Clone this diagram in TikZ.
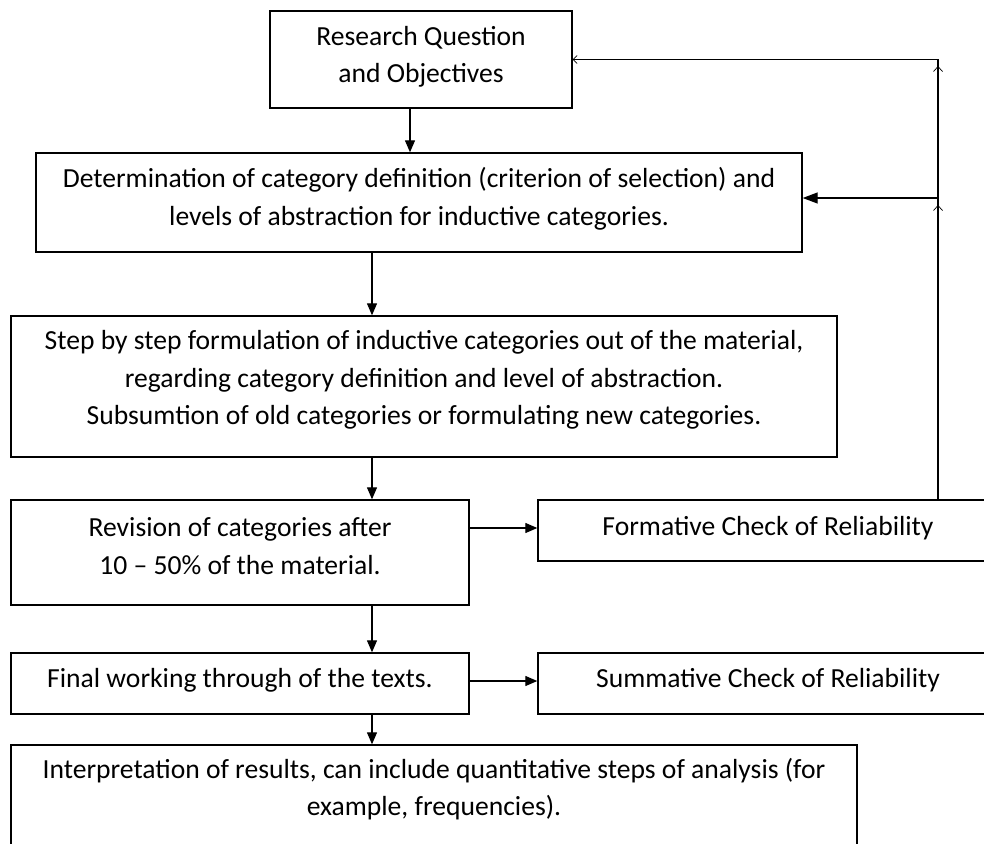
\documentclass[tikz,border=0pt]{standalone}
\usepackage{fontspec}
\setmainfont{Carlito}
\usetikzlibrary{arrows.meta}
\begin{document}
\begin{tikzpicture}[x=1pt,y=-1pt,
  box/.style={draw, line width=1.4pt, rectangle, inner sep=0pt},
  txt/.style={align=center, font=\fontsize{27.6}{37.5}\selectfont, inner sep=0pt},
  arr/.style={line width=1.3pt, -{Triangle[length=12pt,width=10pt]}},
  arrbig/.style={line width=1.3pt, -{Triangle[length=15pt,width=11pt]}},
  plain/.style={line width=1.3pt},
  barb/.style={line width=0.7pt, -{Straight Barb[length=5pt,width=9pt]}}]
\useasboundingbox (0,0) rectangle (984,843);
\clip (0,0) rectangle (984,843);
% boxes
\node[box, minimum width=302pt, minimum height=97pt]  (R)   at (421,59.5) {};
\node[box, minimum width=766pt, minimum height=99pt]  (D)   at (419,202.5) {};
\node[box, minimum width=826pt, minimum height=141pt] (S)   at (424,386.5) {};
\node[box, minimum width=458pt, minimum height=105pt] (Rev) at (240,552.5) {};
\node[box, minimum width=460pt, minimum height=61pt]  (F)   at (768,530.5) {};
\node[box, minimum width=458pt, minimum height=61pt]  (Fin) at (240,683.5) {};
\node[box, minimum width=460pt, minimum height=61pt]  (Sum) at (768,683.5) {};
\node[box, minimum width=846pt, minimum height=135pt] (I)   at (434,812.5) {};
% texts
\node[txt] (tR)   at (421,57)  {Research Question\\and Objectives};
\node[txt] (tD)   at (419,199) {Determination of category definition (criterion of selection) and\\levels of abstraction for inductive categories.};
\node[txt] (tS)   at (424,380) {Step by step formulation of inductive categories out of the material,\\regarding category definition and level of abstraction.\\Subsumtion of old categories or formulating new categories.};
\node[txt] (tRev) at (240,546) {Revision of categories after\\10 – 50\% of the material.};
\node[txt] (tF)   at (768,528) {Formative Check of Reliability};
\node[txt] (tFin) at (240,680) {Final working through of the texts.};
\node[txt] (tSum) at (768,680) {Summative Check of Reliability};
\node[txt] (tI)   at (434,789) {Interpretation of results, can include quantitative steps of analysis (for\\example, frequencies).};
% helper coordinates
\coordinate (c1) at (410,0);
\coordinate (c2) at (372,0);
\coordinate (c3) at (0,528);
\coordinate (c4) at (0,681);
\coordinate (c5) at (0,198);
\coordinate (fb) at (938,0);
\coordinate (b1s) at (938,77);
\coordinate (b1e) at (938,66);
\coordinate (b2s) at (938,216);
\coordinate (b2e) at (938,205);
% connectors
\draw[arr] (R.south -| c1) -- (D.north -| c1);
\draw[arr] (D.south -| c2) -- (S.north -| c2);
\draw[arr] (S.south -| c2) -- (Rev.north -| c2);
\draw[arr] (Rev.south -| c2) -- (Fin.north -| c2);
\draw[arr] (Fin.south -| c2) -- (I.north -| c2);
\draw[arr] (Rev.east |- c3) -- (F.west |- c3);
\draw[arr] (Fin.east |- c4) -- (Sum.west |- c4);
\draw[plain, -{Straight Barb[length=4pt,width=8pt,line width=0.7pt]}] (F.north -| fb) -- (fb |- R.east) -- (R.east);
\draw[arrbig] (fb |- c5) -- (D.east |- c5);
\draw[barb] (b1s) -- (b1e);
\draw[barb] (b2s) -- (b2e);
\end{tikzpicture}
\end{document}
